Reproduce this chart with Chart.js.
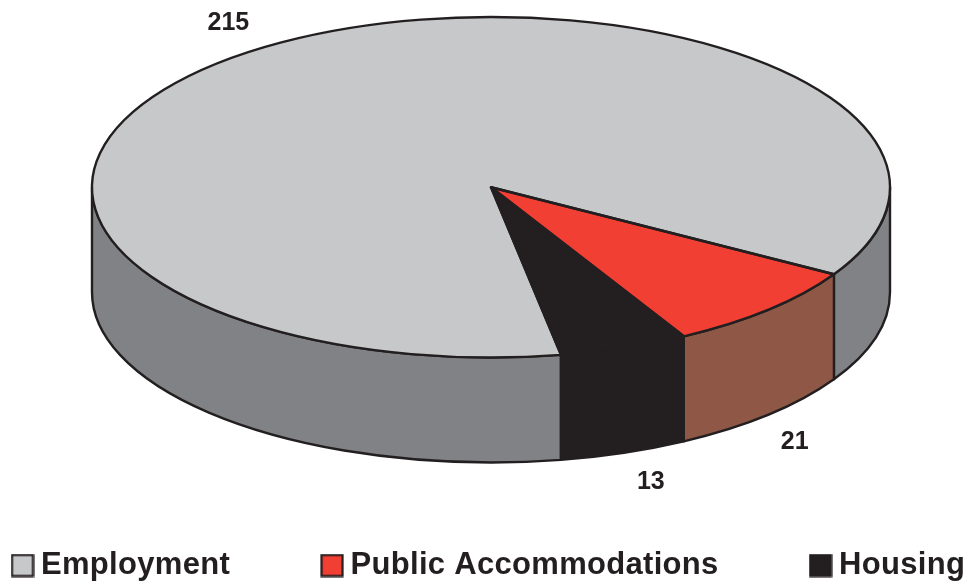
<!DOCTYPE html>
<html>
<head>
<meta charset="utf-8">
<style>
html,body{margin:0;padding:0;background:#fff}
#wrap{width:971px;height:587px;position:relative}
</style>
<script src="https://cdn.jsdelivr.net/npm/chart.js@4/dist/chart.umd.min.js"></script>
</head>
<body>
<div id="wrap"><canvas id="c" width="971" height="587"></canvas></div>
<script>
const categories = ["Employment", "Public Accommodations", "Housing"];
const values = [215, 21, 13];
const topColors = ["#c7c8ca", "#f13f33", "#231f20"];
const wallColors = ["#808285", "#8f5846", "#231f20"];
const labelNudge = [[3, 0], [-21, 7], [4, 2]];

const OUT = "#231f20";
const RX = 399, DEPTH = 105, LABEL_R = 1.17, PEN = 2.4, SPACING = "0.3px";

function swatch(color) {
  const c = document.createElement("canvas");
  c.width = 24; c.height = 24;
  const x = c.getContext("2d");
  x.fillStyle = color;
  x.fillRect(1.5, 1.5, 21, 21);
  x.strokeStyle = OUT;
  x.lineWidth = 2.2;
  x.strokeRect(1.5, 1.5, 21, 21);
  return c;
}

const pie3d = {
  id: "pie3d",
  beforeLayout(chart) {
    chart.ctx.letterSpacing = SPACING;
    const l = chart.legend;
    if (!l._oneRow) {
      l._oneRow = true;
      const u = l.update;
      l.update = function (w, h, m) { return u.call(this, 3000, h, m); };
    }
  },
  beforeDraw(chart) { chart.ctx.letterSpacing = SPACING; },
  afterLayout(chart) {
    const l = chart.legend, pad = l.options.labels.padding;
    l.left = 19.5 - pad;
    l.top = 550 - pad;
    l.right = 3000;
    l.bottom = 587;
  },
  beforeDatasetsDraw(chart) {
    const ctx = chart.ctx, meta = chart.getDatasetMeta(0).data;
    const a0 = meta[0], sx = RX / a0.outerRadius, cx = a0.x, cy = a0.y, R = a0.outerRadius;
    ctx.letterSpacing = "0px";
    // walls: the visible front half of every slice, shifted down by the depth
    meta.forEach((arc, i) => {
      [0, 2 * Math.PI].forEach(off => {
        const s = Math.max(arc.startAngle, off), e = Math.min(arc.endAngle, off + Math.PI);
        if (e <= s) return;
        ctx.save();
        ctx.beginPath();
        ctx.translate(cx, cy);
        ctx.scale(sx, 1);
        ctx.arc(0, 0, R, s, e);
        ctx.restore();
        ctx.save();
        ctx.translate(cx, cy + DEPTH);
        ctx.scale(sx, 1);
        ctx.arc(0, 0, R, e, s, true);
        ctx.restore();
        ctx.closePath();
        ctx.fillStyle = wallColors[i];
        ctx.fill();
        ctx.lineWidth = PEN;
        ctx.strokeStyle = OUT;
        ctx.lineJoin = "round";
        ctx.stroke();
      });
    });
    ctx.save();
    ctx.translate(cx, cy);
    ctx.scale(sx, 1);
    ctx.translate(-cx, -cy);
  },
  afterDatasetsDraw(chart) {
    const ctx = chart.ctx, meta = chart.getDatasetMeta(0).data;
    ctx.restore();
    const a0 = meta[0], sx = RX / a0.outerRadius, cx = a0.x, cy = a0.y, R = a0.outerRadius;
    // outlines of the top face, in an even pen width
    meta.forEach(arc => {
      ctx.save();
      ctx.beginPath();
      ctx.translate(cx, cy);
      ctx.scale(sx, 1);
      ctx.moveTo(0, 0);
      ctx.arc(0, 0, R, arc.startAngle, arc.endAngle);
      ctx.closePath();
      ctx.restore();
      ctx.lineWidth = PEN;
      ctx.strokeStyle = OUT;
      ctx.lineJoin = "round";
      ctx.stroke();
    });
    // value labels
    ctx.save();
    ctx.font = "bold 25px 'Liberation Sans'";
    ctx.fillStyle = OUT;
    ctx.textAlign = "center";
    ctx.textBaseline = "middle";
    meta.forEach((arc, i) => {
      const mid = (arc.startAngle + arc.endAngle) / 2;
      const front = Math.sin(mid) > 0;
      const x = cx + Math.cos(mid) * R * LABEL_R * sx + labelNudge[i][0];
      const y = cy + Math.sin(mid) * R * LABEL_R + (front ? DEPTH : 0) + labelNudge[i][1];
      ctx.fillText(String(values[i]), x, y);
    });
    ctx.restore();
  }
};

new Chart(document.getElementById("c"), {
  type: "pie",
  data: {
    labels: categories,
    datasets: [{ data: values, backgroundColor: topColors, borderWidth: 0 }]
  },
  options: {
    responsive: false,
    animation: false,
    rotation: 169.9,
    layout: { padding: { top: 17, left: 11, right: 0, bottom: 89.5 } },
    plugins: {
      tooltip: { enabled: false },
      legend: {
        display: true,
        position: "bottom",
        align: "start",
        labels: {
          padding: 99,
          usePointStyle: true,
          pointStyleWidth: 6,
          boxHeight: 21,
          color: OUT,
          font: { family: "'Liberation Sans'", size: 31, weight: "bold" },
          generateLabels(chart) {
            return Chart.overrides.pie.plugins.legend.labels.generateLabels(chart).map((it, i) => {
              it.pointStyle = swatch(topColors[i]);
              it.lineWidth = 0;
              return it;
            });
          }
        }
      }
    }
  },
  plugins: [pie3d]
});
</script>
</body>
</html>
